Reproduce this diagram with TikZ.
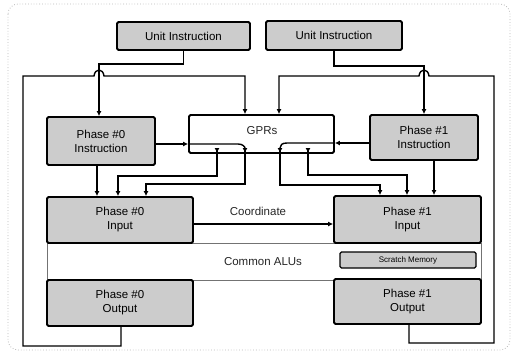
\documentclass[tikz,border=0pt]{standalone}
\usepackage{fontspec}
\setmainfont{Liberation Sans}
\usetikzlibrary{arrows.meta}
\begin{document}
\begin{tikzpicture}[x=1pt,y=-1pt,
  box/.style={draw=black, line width=1.8pt, fill=black!20, rounded corners=1.5pt, inner sep=0pt,
              font=\fontsize{11.5}{14}\selectfont, align=center},
  wbox/.style={box, fill=white},
  ln/.style={line width=1.4pt},
  con/.style={ln, -{Latex[length=5pt,width=5pt]}},
  dd/.style={ln, {Latex[reversed,length=5pt,width=5pt]}-{Latex[length=5pt,width=5pt]}},
  lbl/.style={font=\fontsize{11.5}{14}\selectfont, text=black!85}]
\useasboundingbox (0,0) rectangle (514,359);
\draw[gray!55, dotted, line width=0.8pt, rounded corners=10pt] (8,4) rectangle (510,350);

% boxes
\node[box, minimum width=133pt, minimum height=28pt] (ui0) at (183.5,36) {Unit Instruction};
\node[box, minimum width=136pt, minimum height=29pt] (ui1) at (334,35.5) {Unit Instruction};
\node[box, minimum width=108pt, minimum height=48pt] (pi0) at (101,141) {Phase \#0\\Instruction};
\node[wbox, minimum width=145pt, minimum height=38pt] (gpr) at (261.5,134) {};
\node[lbl] (gprt) at (262,131) {GPRs};
\node[box, minimum width=108pt, minimum height=45pt] (pi1) at (424,137.5) {Phase \#1\\Instruction};

\node[draw=black!55, line width=0.6pt, fill=white, minimum width=434pt, minimum height=37pt,
      inner sep=0pt] (alu) at (264,261.5) {};
\node[lbl] (alut) at (263,261.5) {Common ALUs};
\node[box, minimum width=146pt, minimum height=46pt] (pin0) at (120,220) {Phase \#0\\Input};
\node[box, minimum width=147pt, minimum height=47pt] (pin1) at (407.5,219.5) {Phase \#1\\Input};
\node[box, minimum width=146pt, minimum height=46pt] (po0) at (120,303) {Phase \#0\\Output};
\node[box, minimum width=147pt, minimum height=45pt] (po1) at (407.5,301.5) {Phase \#1\\Output};
\node[box, line width=1.2pt, minimum width=136pt, minimum height=16pt, font=\fontsize{8}{9}\selectfont] (sm) at (408,260) {Scratch Memory};

% helper coordinates
\coordinate (c97) at (97,0);   \coordinate (c99) at (99,0);
\coordinate (a1) at (217,0);   \coordinate (b1) at (118,0);
\coordinate (a2) at (245,0);   \coordinate (b2) at (146,0);
\coordinate (a3) at (280,0);   \coordinate (b3) at (380,0);
\coordinate (a4) at (308,0);   \coordinate (b4) at (407,0);
\coordinate (c434) at (434,0);
\coordinate (yL) at (0,144);   \coordinate (yR) at (0,143);
\coordinate (yb) at (0,148);
\coordinate (yc) at (0,224);
\coordinate (L1) at (121,346); \coordinate (L2) at (23,346); \coordinate (L3) at (23,76);
\coordinate (L4) at (245,76);
\coordinate (R1) at (409,343); \coordinate (R2) at (494,343); \coordinate (R3) at (494,76);
\coordinate (R4) at (279,76);

% unit instructions to phase instructions
\draw[con] (ui0.south) -- ++(0,13) -| (pi0.north -| c99);
\draw[con] (ui1.south) -- ++(0,15) -| (pi1.north);

% write-back loops
\draw[con] (po0.south -| L1) -- (L1) -- (L2) -- (L3) -- (94,76)
  .. controls (95,68) and (103,68) .. (104,76) -- (L4) -- (gpr.north -| L4);
\draw[con] (po1.south -| R1) -- (R1) -- (R2) -- (R3) -- (429,76)
  .. controls (428,68) and (420,68) .. (419,76) -- (R4) -- (gpr.north -| R4);

% instruction to GPRs
\draw[con] (pi0.east |- yL) -- (gpr.west |- yL);
\draw[ln] (gpr.west |- yL) -- (238,144) .. controls (243,144) and (245,147) .. (a2 |- yb);
\draw[con] (pi1.west |- yR) -- (gpr.east |- yR);
\draw[ln] (gpr.east |- yR) -- (287,143) .. controls (282,143) and (280,145) .. (a3 |- yb);

% GPRs to inputs
\draw[dd] (a1 |- yb) -- (217,176) -| (pin0.north -| b1);
\draw[dd] (a2 |- yb) -- (245,184) -| (pin0.north -| b2);
\draw[dd] (a3 |- yb) -- (280,185) -| (pin1.north -| b3);
\draw[dd] (a4 |- yb) -- (308,175) -| (pin1.north -| b4);

% instructions to inputs
\draw[con] (pi0.south -| c97) -- (pin0.north -| c97);
\draw[con] (pi1.south -| c434) -- (pin1.north -| c434);

% coordinate
\draw[con] (pin0.east |- yc) -- (pin1.west |- yc);
\node[lbl] (coord) at (258,211) {Coordinate};
\end{tikzpicture}
\end{document}
